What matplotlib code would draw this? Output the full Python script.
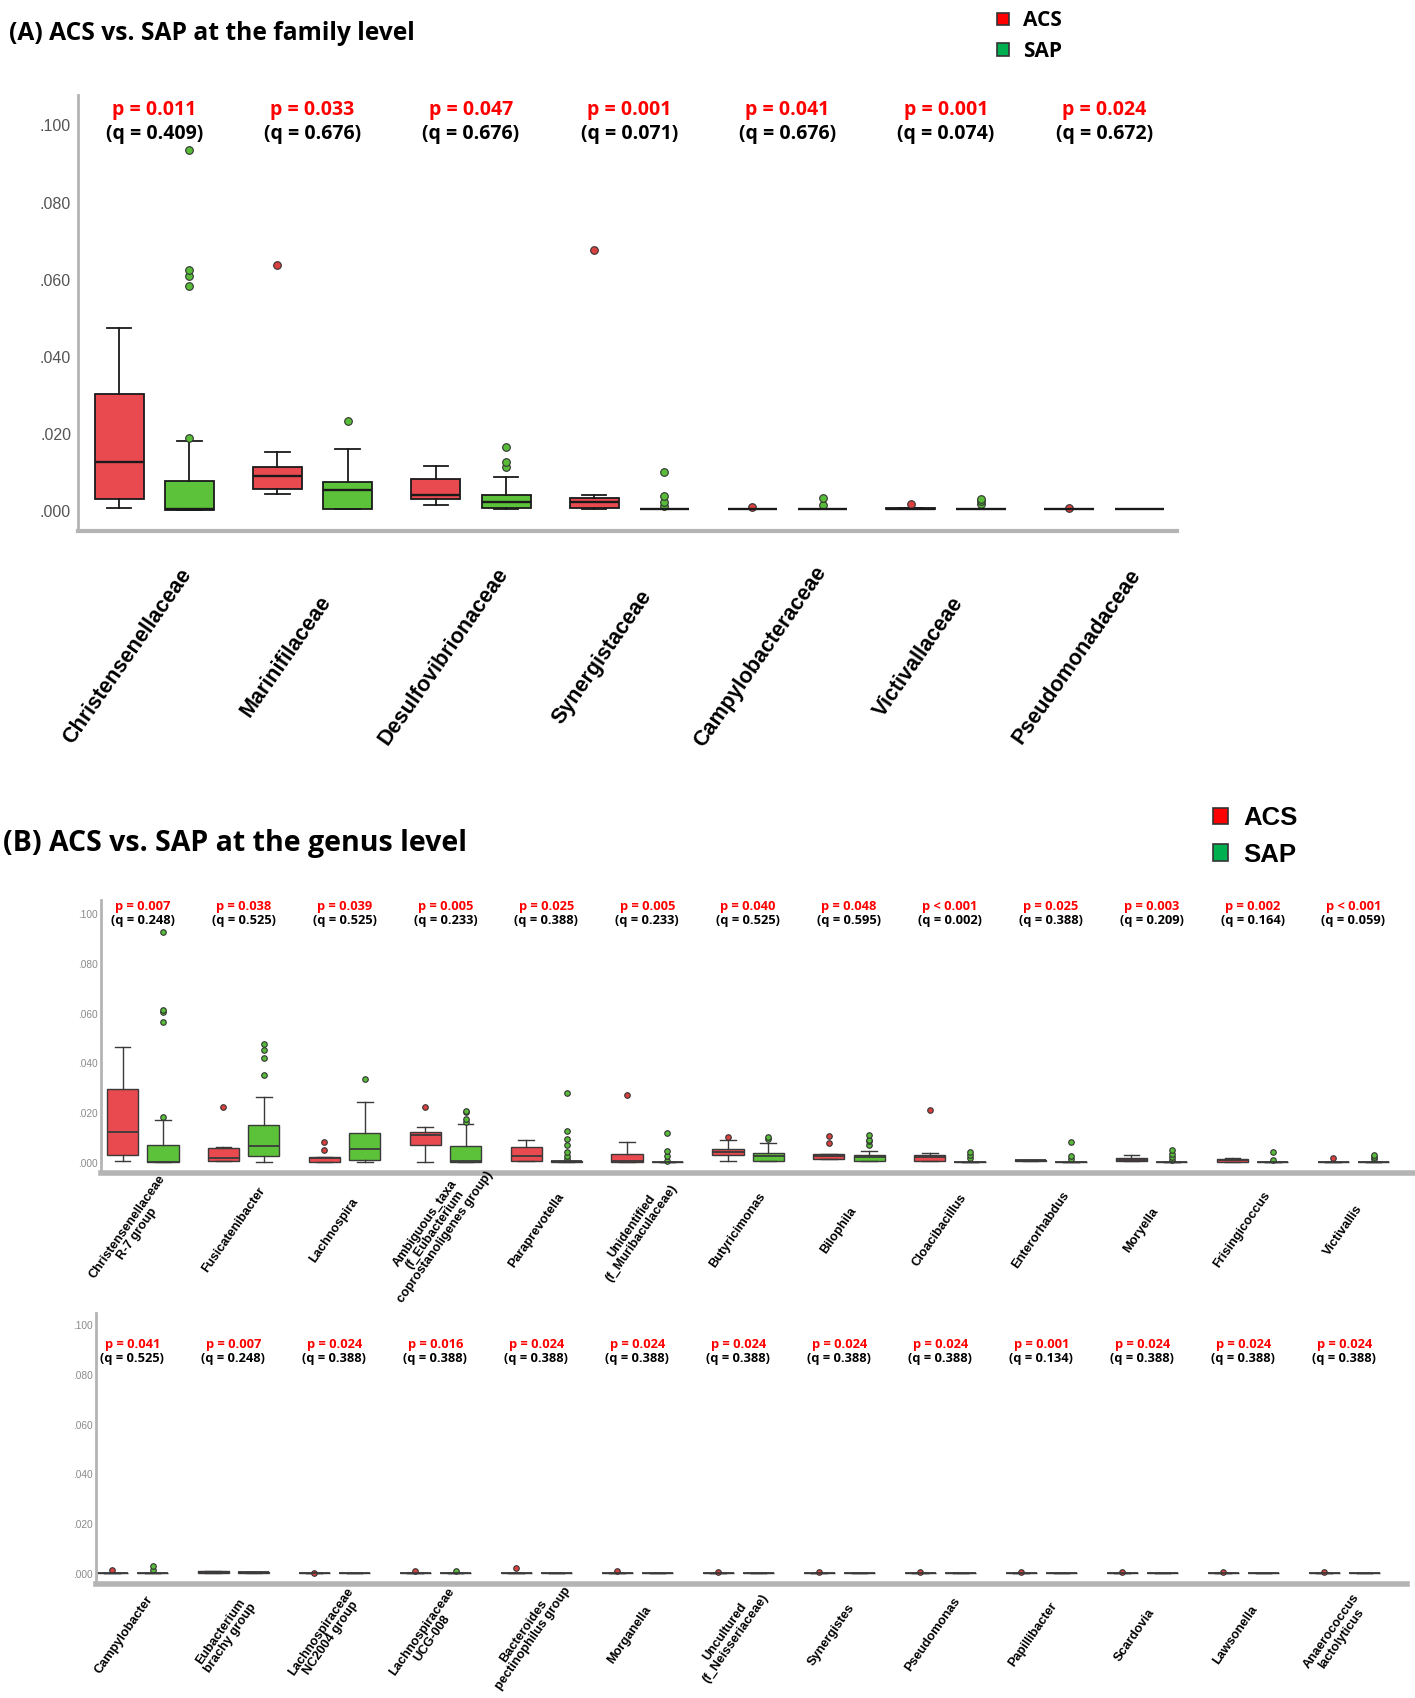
import numpy as np
import matplotlib.pyplot as plt
from matplotlib.patches import Patch

plt.rcParams['font.family'] = ['Liberation Sans', 'DejaVu Sans']

RED = '#e84a4f'
GREEN = '#5cc23a'
RED_DOT = '#d94141'
GREEN_DOT = '#58bb3a'
AXIS_GREY = '#b4b4b4'

# ---- (A) family level ----
fam_names = ['Christensenellaceae', 'Marinifilaceae', 'Desulfovibrionaceae', 'Synergistaceae',
             'Campylobacteraceae', 'Victivallaceae', 'Pseudomonadaceae']
fam_p = ['= 0.011', '= 0.033', '= 0.047', '= 0.001', '= 0.041', '= 0.001', '= 0.024']
fam_q = ['0.409', '0.676', '0.676', '0.071', '0.676', '0.074', '0.672']
# whisker low, Q1, median, Q3, whisker high
fam_acs = [[0.0008, 0.0032, 0.0126, 0.0303, 0.0475],
           [0.0043, 0.0056, 0.0091, 0.0114, 0.0154],
           [0.0015, 0.0032, 0.0041, 0.0083, 0.0116],
           [0.0006, 0.0007, 0.0023, 0.0033, 0.0041],
           [0.0005, 0.0005, 0.0005, 0.0005, 0.0005],
           [0.0005, 0.0005, 0.0006, 0.0009, 0.0009],
           [0.0005, 0.0005, 0.0005, 0.0005, 0.0005]]
fam_sap = [[0.0003, 0.0003, 0.0004, 0.0078, 0.0181],
           [0.0004, 0.0005, 0.0055, 0.0075, 0.0161],
           [0.0006, 0.0007, 0.0023, 0.0041, 0.0087],
           [0.0005, 0.0005, 0.0005, 0.0005, 0.0005],
           [0.0005, 0.0005, 0.0005, 0.0005, 0.0005],
           [0.0005, 0.0005, 0.0005, 0.0005, 0.0005],
           [0.0005, 0.0005, 0.0005, 0.0005, 0.0005]]
fam_acs_out = [[], [0.0638], [], [0.0678], [0.0011], [0.0019], [0.0007]]
fam_sap_out = [[0.0190, 0.0584, 0.0609, 0.0625, 0.0936], [0.0234], [0.0115, 0.0127, 0.0167],
               [0.0012, 0.0023, 0.0039, 0.0102], [0.0016, 0.0033], [0.0017, 0.0025, 0.0032], []]

# ---- (B) genus level, first row ----
gen1_names = ['Christensenellaceae\nR-7 group', 'Fusicatenibacter', 'Lachnospira',
              'Ambiguous_taxa\n(f_Eubacterium\ncoprostanoligenes group)', 'Paraprevotella',
              'Unidentified\n(f_Muribaculaceae)', 'Butyricimonas', 'Bilophila', 'Cloacibacillus',
              'Enterorhabdus', 'Moryella', 'Frisingicoccus', 'Victivallis']
gen1_p = ['= 0.007', '= 0.038', '= 0.039', '= 0.005', '= 0.025', '= 0.005', '= 0.040',
          '= 0.048', '< 0.001', '= 0.025', '= 0.003', '= 0.002', '< 0.001']
gen1_q = ['0.248', '0.525', '0.525', '0.233', '0.388', '0.233', '0.525',
          '0.595', '0.002', '0.388', '0.209', '0.164', '0.059']
gen1_acs = [[0.0007, 0.0031, 0.0123, 0.0296, 0.0465],
            [0.0007, 0.0007, 0.0019, 0.0060, 0.0063],
            [0.0005, 0.0005, 0.0020, 0.0023, 0.0023],
            [0.0005, 0.0074, 0.0114, 0.0123, 0.0145],
            [0.0007, 0.0007, 0.0028, 0.0066, 0.0092],
            [0.0005, 0.0005, 0.0007, 0.0037, 0.0083],
            [0.0007, 0.0031, 0.0043, 0.0058, 0.0092],
            [0.0016, 0.0016, 0.0028, 0.0036, 0.0036],
            [0.0007, 0.0007, 0.0023, 0.0032, 0.0040],
            [0.0007, 0.0008, 0.0011, 0.0013, 0.0013],
            [0.0007, 0.0007, 0.0013, 0.0019, 0.0031],
            [0.0005, 0.0005, 0.0011, 0.0015, 0.0021],
            [0.0006, 0.0006, 0.0006, 0.0006, 0.0006]]
gen1_sap = [[0.0004, 0.0004, 0.0005, 0.0074, 0.0171],
            [0.0005, 0.0028, 0.0067, 0.0151, 0.0266],
            [0.0005, 0.0012, 0.0056, 0.0120, 0.0244],
            [0.0005, 0.0005, 0.0007, 0.0067, 0.0158],
            [0.0006, 0.0006, 0.0007, 0.0008, 0.0009],
            [0.0006, 0.0006, 0.0006, 0.0006, 0.0006],
            [0.0007, 0.0007, 0.0027, 0.0039, 0.0079],
            [0.0007, 0.0007, 0.0023, 0.0032, 0.0050],
            [0.0006, 0.0006, 0.0006, 0.0006, 0.0006],
            [0.0006, 0.0006, 0.0006, 0.0006, 0.0006],
            [0.0006, 0.0006, 0.0006, 0.0006, 0.0006],
            [0.0006, 0.0006, 0.0006, 0.0006, 0.0006],
            [0.0006, 0.0006, 0.0006, 0.0006, 0.0006]]
gen1_acs_out = [[], [0.0225], [0.0054, 0.0083], [0.0225], [], [0.0272], [0.0106],
                [0.0080, 0.0110], [0.0212], [], [], [], [0.0021]]
gen1_sap_out = [[0.0185, 0.0568, 0.0605, 0.0616, 0.0928], [0.0353, 0.0420, 0.0452, 0.0477], [0.0339],
                [0.0163, 0.0177, 0.0203, 0.0209], [0.0016, 0.0027, 0.0043, 0.0071, 0.0098, 0.0130, 0.0282],
                [0.0008, 0.0027, 0.0050, 0.0122], [0.0095, 0.0104], [0.0072, 0.0087, 0.0094, 0.0112],
                [0.0020, 0.0032, 0.0043], [0.0016, 0.0027, 0.0084], [0.0013, 0.0025, 0.0037, 0.0051],
                [0.0013, 0.0046], [0.0016, 0.0023, 0.0032]]

# ---- (B) genus level, second row ----
gen2_names = ['Campylobacter', 'Eubacterium\nbrachy group', 'Lachnospiraceae\nNC2004 group',
              'Lachnospiraceae\nUCG-008', 'Bacteroides\npectinophilus group', 'Morganella',
              'Uncultured\n(f_Neisseriaceae)', 'Synergistes', 'Pseudomonas', 'Papillibacter',
              'Scardovia', 'Lawsonella', 'Anaerococcus\nlactolyticus']
gen2_p = ['= 0.041', '= 0.007', '= 0.024', '= 0.016', '= 0.024', '= 0.024', '= 0.024',
          '= 0.024', '= 0.024', '= 0.001', '= 0.024', '= 0.024', '= 0.024']
gen2_q = ['0.525', '0.248', '0.388', '0.388', '0.388', '0.388', '0.388',
          '0.388', '0.388', '0.134', '0.388', '0.388', '0.388']
flat = [0.0006, 0.0006, 0.0006, 0.0006, 0.0006]
gen2_acs = [flat, [0.0005, 0.0005, 0.0008, 0.0011, 0.0011]] + [flat] * 11
gen2_sap = [flat, [0.0006, 0.0006, 0.0007, 0.0009, 0.0009]] + [flat] * 11
gen2_acs_out = [[0.0016], [], [0.0006], [0.0013], [0.0024], [0.0013], [0.0009],
                [0.0007], [0.0008], [0.0008], [0.0008], [0.0009], [0.0008]]
gen2_sap_out = [[0.0016, 0.0033], [], [], [0.0011], [], [], [], [], [], [], [], [], []]

yticks = [0.0, 0.02, 0.04, 0.06, 0.08, 0.10]


def draw_boxes(ax, acs, sap, acs_out, sap_out, off, width, lw, ms, edge):
    x = np.arange(len(acs))
    for stats, outs, dx, face, dot in [(acs, acs_out, -off, RED, RED_DOT),
                                       (sap, sap_out, off, GREEN, GREEN_DOT)]:
        bstats = [dict(whislo=s[0], q1=s[1], med=s[2], q3=s[3], whishi=s[4], fliers=o)
                  for s, o in zip(stats, outs)]
        ax.bxp(bstats, positions=x + dx, widths=width, patch_artist=True, manage_ticks=False,
               boxprops=dict(facecolor=face, edgecolor=edge, linewidth=lw),
               medianprops=dict(color=edge, linewidth=lw * 1.3),
               whiskerprops=dict(color=edge, linewidth=lw),
               capprops=dict(color=edge, linewidth=lw),
               flierprops=dict(marker='o', markerfacecolor=dot, markeredgecolor='#333333',
                               markersize=ms, markeredgewidth=0.8))


def style_axes(ax, xlim, ylim, tsize, tcolor, xw, yw, pad):
    ax.set_xlim(*xlim)
    ax.set_ylim(*ylim)
    ax.spines['top'].set_visible(False)
    ax.spines['right'].set_visible(False)
    ax.spines['bottom'].set_color(AXIS_GREY)
    ax.spines['bottom'].set_linewidth(xw)
    ax.spines['left'].set_color(AXIS_GREY)
    ax.spines['left'].set_linewidth(yw)
    ax.set_xticks([])
    ax.set_yticks(yticks)
    ax.set_yticklabels([f'{v:.3f}'[1:] for v in yticks])
    ax.tick_params(axis='y', length=0, pad=pad, labelsize=tsize, labelcolor=tcolor)
    ax.patch.set_alpha(0)


def annotate(ax, ps, qs, yp, yq, size):
    for i, (p, q) in enumerate(zip(ps, qs)):
        ax.text(i, yp, 'p ' + p, color='red', fontsize=size, fontweight='bold',
                family='Open Sans', ha='center', va='center', clip_on=False)
        ax.text(i, yq, '(q = ' + q + ')', color='black', fontsize=size, fontweight='bold',
                family='Open Sans', ha='center', va='center', clip_on=False)


def names(ax, labels, dx, ay, size, rot):
    for i, lab in enumerate(labels):
        ax.text(i + dx, ay, lab, transform=ax.get_xaxis_transform(), rotation=rot,
                rotation_mode='anchor', ha='center', va='center', multialignment='center',
                fontsize=size, fontweight='bold', linespacing=1.0, clip_on=False)


fig = plt.figure(figsize=(14.15, 16.98), dpi=100)
W, H = 1415.0, 1698.0


def add_axes(left, right, top, bottom):
    return fig.add_axes([left / W, 1 - bottom / H, (right - left) / W, (bottom - top) / H])


# panel A
axA = add_axes(78, 1177, 95, 530.5)
draw_boxes(axA, fam_acs, fam_sap, fam_acs_out, fam_sap_out, 0.222, 0.31, 1.3, 5.5, '#1a1a1a')
style_axes(axA, (-0.482, 6.46), (-0.00506, 0.1079), 11.5, '#555555', 3.0, 2.0, 5)
annotate(axA, fam_p, fam_q, 0.1040, 0.0977, 14)
names(axA, fam_names, -0.17, -0.29, 15.5, 55)

# panel B, row 1
axB1 = add_axes(101, 1415, 900, 1173)
draw_boxes(axB1, gen1_acs, gen1_sap, gen1_acs_out, gen1_sap_out, 0.2, 0.31, 1.0, 4.0, '#3a3a3a')
style_axes(axB1, (-0.414, 12.61), (-0.004, 0.1056), 7.3, '#8a8a8a', 4.0, 2.0, 2)
annotate(axB1, gen1_p, gen1_q, 0.1030, 0.0974, 9.3)
names(axB1, gen1_names, -0.1, -0.209, 9.2, 55)

# panel B, row 2
axB2 = add_axes(96, 1407, 1313, 1584)
draw_boxes(axB2, gen2_acs, gen2_sap, gen2_acs_out, gen2_sap_out, 0.2, 0.31, 1.0, 4.0, '#3a3a3a')
style_axes(axB2, (-0.36, 12.62), (-0.004, 0.1048), 7.3, '#8a8a8a', 4.0, 2.0, 2)
annotate(axB2, gen2_p, gen2_q, 0.0923, 0.0867, 9.3)
names(axB2, gen2_names, -0.08, -0.188, 9.2, 55)

# titles
fig.text(9 / W, 1 - 34 / H, '(A) ACS vs. SAP at the family level', fontsize=17.7,
         fontweight='bold', family='Open Sans', ha='left', va='center')
fig.text(3 / W, 1 - 843 / H, '(B) ACS vs. SAP at the genus level', fontsize=20.5,
         fontweight='bold', family='Open Sans', ha='left', va='center')

# legends
handles = [Patch(facecolor='#ff0000', edgecolor='#333333', linewidth=1.2),
           Patch(facecolor='#00b050', edgecolor='#333333', linewidth=1.2)]
fig.legend(handles, ['ACS', 'SAP'], loc='upper left', bbox_to_anchor=(987 / W, 1 - 0 / H),
           frameon=False, handlelength=0.55, handleheight=0.55, handletextpad=0.7,
           labelspacing=0.45, borderpad=0, prop=dict(family='Open Sans', weight='bold', size=15))
fig.legend(handles, ['ACS', 'SAP'], loc='upper left', bbox_to_anchor=(1200 / W, 1 - 793 / H),
           frameon=False, handlelength=0.6, handleheight=0.6, handletextpad=0.6,
           labelspacing=0.5, borderpad=0, prop=dict(family='Liberation Sans', weight='bold', size=18.5))

fig.savefig('out.png', dpi=100)
